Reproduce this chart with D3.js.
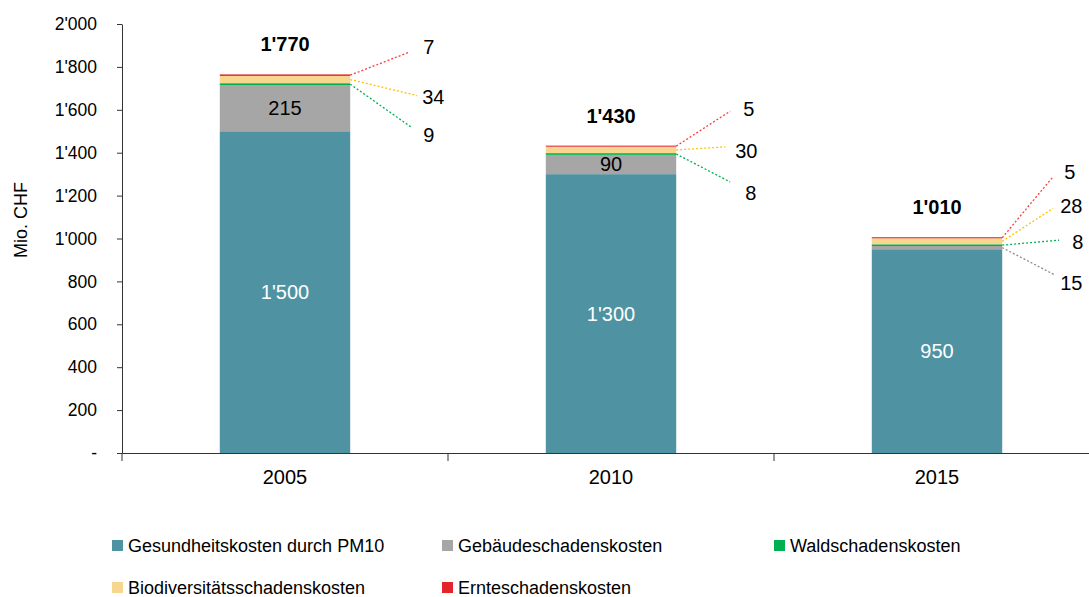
<!DOCTYPE html>
<html><head><meta charset="utf-8">
<script src="https://cdn.jsdelivr.net/npm/d3@7"></script>
<style>
body{margin:0;background:#fff;}
svg{display:block;font-family:"Liberation Sans",Arial,sans-serif;}
</style></head>
<body><svg id="c" width="1089" height="597"></svg>
<script>
// ---- data ----
const years = ["2005", "2010", "2015"];
const seriesNames = ["Gesundheitskosten durch PM10", "Gebäudeschadenskosten", "Waldschadenskosten", "Biodiversitätsschadenskosten", "Ernteschadenskosten"];
const gesundheit = [1500, 1300, 950];
const gebaeude = [215, 90, 15];
const wald = [9, 8, 8];
const biodiv = [34, 30, 28];
const ernte = [7, 5, 5];
const totalLabels = ["1'770", "1'430", "1'010"];
const yTicks = [0, 200, 400, 600, 800, 1000, 1200, 1400, 1600, 1800, 2000];

// ---- style / layout ----
const colors = ["#4F93A2", "#A6A6A6", "#00B050", "#F7D68F", "#E3262B"];
const leaderColors = ["#4F93A2", "#8C8C8C", "#00B050", "#FFC000", "#FF3B3B"];
// callout offsets per year: [seriesIndex, lineDx, lineDy, textDx, textDy]
const callouts = [
  [[4, 59, -23, 14, -5], [3, 67, 16, 5, 1], [2, 61, 43, 12, 8]],
  [[4, 54, -35, 13, -2], [3, 49, -3, 10, 4], [2, 54, 28, 15, 11]],
  [[4, 50, -60, 12, -6], [3, 51, -33, 7, -2], [2, 57, -5, 13, 2], [1, 52, 27, 6, 8]]
];

const svg = d3.select("#c");
const x = d3.scaleBand().domain(years).range([122, 1100]).padding(0);
const y = d3.scaleLinear().domain([0, 2000]).range([453, 24]);
const barW = x.bandwidth() * 0.4;
const fmt = v => v === 0 ? "-" : d3.format(",")(v).replace(/,/g, "'");

const series = [gesundheit, gebaeude, wald, biodiv, ernte];
const table = years.map((yr, i) => {
  const o = {year: yr};
  seriesNames.forEach((s, k) => o[s] = series[k][i]);
  return o;
});
const stacked = d3.stack().keys(seriesNames)(table);

// bars
stacked.forEach((layer, k) => {
  svg.append("g").selectAll("rect").data(layer).join("rect")
    .attr("x", d => x(d.data.year) + (x.bandwidth() - barW) / 2)
    .attr("width", barW)
    .attr("y", d => y(d[1]))
    .attr("height", d => y(d[0]) - y(d[1]))
    .attr("fill", colors[k]);
});

// inside labels
const inside = [[0, "#fff"], [1, "#000"]];
inside.forEach(([k, col]) => {
  stacked[k].forEach((d, i) => {
    if (series[k][i] < 50) return;
    svg.append("text")
      .attr("x", x(d.data.year) + x.bandwidth() / 2)
      .attr("y", y((d[0] + d[1]) / 2))
      .attr("dy", "0.35em").attr("text-anchor", "middle")
      .attr("font-size", 20).attr("fill", col)
      .text(fmt(series[k][i]));
  });
});

// totals
years.forEach((yr, i) => {
  const top = stacked[stacked.length - 1][i][1];
  svg.append("text")
    .attr("x", x(yr) + x.bandwidth() / 2)
    .attr("y", y(top) - 30)
    .attr("dy", "0.35em").attr("text-anchor", "middle")
    .attr("font-size", 20).attr("font-weight", "bold").attr("fill", "#000")
    .text(totalLabels[i]);
});

// callouts
years.forEach((yr, i) => {
  const xr = x(yr) + (x.bandwidth() + barW) / 2;
  callouts[i].forEach(([k, ldx, ldy, tdx, tdy]) => {
    const d = stacked[k][i];
    const ym = y((d[0] + d[1]) / 2);
    svg.append("line")
      .attr("x1", xr).attr("y1", ym)
      .attr("x2", xr + ldx).attr("y2", ym + ldy)
      .attr("stroke", leaderColors[k]).attr("stroke-width", 1.3)
      .attr("stroke-dasharray", "2,2");
    svg.append("text")
      .attr("x", xr + ldx + tdx).attr("y", ym + ldy + tdy)
      .attr("dy", "0.35em").attr("font-size", 20).attr("fill", "#000")
      .text(fmt(series[k][i]));
  });
});

// y axis
const yAxis = svg.append("g").attr("transform", "translate(122,0)")
  .call(d3.axisLeft(y).tickValues(yTicks).tickFormat(fmt).tickSize(5).tickSizeOuter(0).tickPadding(20));
yAxis.select(".domain").attr("stroke", "#333");
yAxis.selectAll(".tick line").attr("stroke", "#333");
yAxis.selectAll("text").attr("font-size", 17.5).attr("fill", "#000")
  .attr("font-family", "Liberation Sans, Arial, sans-serif");

// x axis
const xAxis = svg.append("g").attr("transform", "translate(0,453)")
  .call(d3.axisBottom(x).tickSize(0).tickSizeOuter(0).tickPadding(17));
xAxis.select(".domain").attr("stroke", "#333");
xAxis.selectAll("text").attr("font-size", 20).attr("fill", "#000")
  .attr("font-family", "Liberation Sans, Arial, sans-serif");
svg.append("g").selectAll("line").data(years.map(yr => x(yr)).concat([x.range()[1]])).join("line")
  .attr("x1", d => d).attr("x2", d => d).attr("y1", 453).attr("y2", 461)
  .attr("stroke", "#333");

// y title
svg.append("text")
  .attr("transform", "translate(27,220) rotate(-90)")
  .attr("text-anchor", "middle").attr("font-size", 18).attr("fill", "#000")
  .text("Mio. CHF");

// legend
const legPos = [[112, 546], [442, 546], [774, 546], [112, 588], [442, 588]];
seriesNames.forEach((s, k) => {
  const [lx, ly] = legPos[k];
  svg.append("rect").attr("x", lx).attr("y", ly - 6).attr("width", 11).attr("height", 11).attr("fill", colors[k]);
  svg.append("text").attr("x", lx + 16).attr("y", ly).attr("dy", "0.35em")
    .attr("font-size", 18).attr("fill", "#000").text(s);
});
</script></body></html>
